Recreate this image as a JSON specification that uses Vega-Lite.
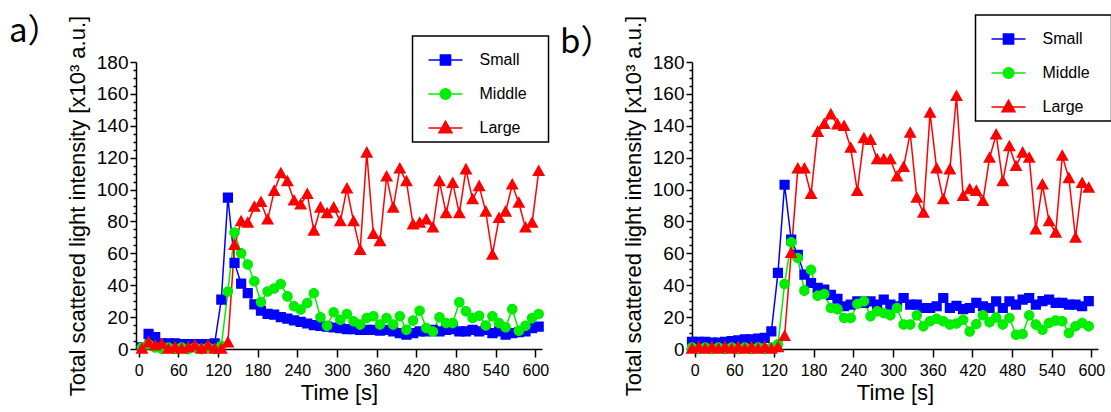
{
  "$schema": "https://vega.github.io/schema/vega-lite/v6.json",
  "padding": {"left": 9, "top": 14, "right": 5, "bottom": 5},
  "bounds": "flush",
  "spacing": 150,
  "config": {
    "view": {"stroke": null},
    "font": "Liberation Sans",
    "axis": {"domainColor": "black", "domainWidth": 1.5, "tickColor": "black", "tickWidth": 1.5, "labelColor": "black", "titleColor": "black", "labelFont": "Liberation Sans", "titleFont": "Liberation Sans", "titleFontWeight": "normal", "grid": false, "labelFlush": false},
    "legend": {"padding": 6, "strokeColor": "black", "strokeWidth": 1.5, "fillColor": "white", "cornerRadius": 0, "symbolSize": 1156, "symbolStrokeWidth": 1.5, "symbolOffset": 9, "labelOffset": 16, "labelFontSize": 16, "labelFont": "Liberation Sans", "labelColor": "black", "rowPadding": 7, "titleOrient": "right", "titleColor": "white", "titleFontSize": 16, "titlePadding": 7, "titleFont": "Liberation Sans"},
    "title": {"font": "Noto Sans CJK JP", "fontSize": 33, "fontWeight": "normal", "color": "black", "anchor": "start", "frame": "group", "offset": 0}
  },
  "resolve": {"scale": {"fill": "independent", "stroke": "independent", "shape": "independent"}, "legend": {"fill": "independent", "stroke": "independent", "shape": "independent"}},
  "datasets": {
    "a": [
      {"t":5,"v":1,"s":"Small"},{"t":15,"v":9.5,"s":"Small"},{"t":25,"v":7.5,"s":"Small"},{"t":35,"v":3.5,"s":"Small"},{"t":45,"v":3.5,"s":"Small"},{"t":55,"v":3.5,"s":"Small"},{"t":65,"v":3,"s":"Small"},{"t":75,"v":3,"s":"Small"},{"t":85,"v":3,"s":"Small"},{"t":95,"v":3,"s":"Small"},{"t":105,"v":3,"s":"Small"},{"t":115,"v":3.5,"s":"Small"},{"t":125,"v":31,"s":"Small"},{"t":135,"v":95,"s":"Small"},{"t":145,"v":54,"s":"Small"},{"t":155,"v":41,"s":"Small"},{"t":165,"v":35,"s":"Small"},{"t":175,"v":28,"s":"Small"},{"t":185,"v":24,"s":"Small"},{"t":195,"v":22,"s":"Small"},{"t":205,"v":21.5,"s":"Small"},{"t":215,"v":20,"s":"Small"},{"t":225,"v":19,"s":"Small"},{"t":235,"v":18,"s":"Small"},{"t":245,"v":17,"s":"Small"},{"t":255,"v":16,"s":"Small"},{"t":265,"v":15,"s":"Small"},{"t":275,"v":14.5,"s":"Small"},{"t":285,"v":14,"s":"Small"},{"t":295,"v":13.5,"s":"Small"},{"t":305,"v":13,"s":"Small"},{"t":315,"v":12.5,"s":"Small"},{"t":325,"v":12.5,"s":"Small"},{"t":335,"v":12,"s":"Small"},{"t":345,"v":12,"s":"Small"},{"t":355,"v":12,"s":"Small"},{"t":365,"v":11.5,"s":"Small"},{"t":375,"v":12,"s":"Small"},{"t":385,"v":11,"s":"Small"},{"t":395,"v":10,"s":"Small"},{"t":405,"v":9,"s":"Small"},{"t":415,"v":10,"s":"Small"},{"t":425,"v":11,"s":"Small"},{"t":435,"v":11,"s":"Small"},{"t":445,"v":12,"s":"Small"},{"t":455,"v":11,"s":"Small"},{"t":465,"v":12,"s":"Small"},{"t":475,"v":12.5,"s":"Small"},{"t":485,"v":11,"s":"Small"},{"t":495,"v":11,"s":"Small"},{"t":505,"v":12,"s":"Small"},{"t":515,"v":11,"s":"Small"},{"t":525,"v":12,"s":"Small"},{"t":535,"v":10,"s":"Small"},{"t":545,"v":11,"s":"Small"},{"t":555,"v":9,"s":"Small"},{"t":565,"v":10,"s":"Small"},{"t":575,"v":10.5,"s":"Small"},{"t":585,"v":11,"s":"Small"},{"t":595,"v":13,"s":"Small"},{"t":605,"v":14,"s":"Small"},
      {"t":5,"v":1,"s":"Middle"},{"t":15,"v":3,"s":"Middle"},{"t":25,"v":1,"s":"Middle"},{"t":35,"v":0,"s":"Middle"},{"t":45,"v":1,"s":"Middle"},{"t":55,"v":0,"s":"Middle"},{"t":65,"v":1,"s":"Middle"},{"t":75,"v":0,"s":"Middle"},{"t":85,"v":1,"s":"Middle"},{"t":95,"v":0,"s":"Middle"},{"t":105,"v":1,"s":"Middle"},{"t":115,"v":0,"s":"Middle"},{"t":125,"v":2,"s":"Middle"},{"t":135,"v":36,"s":"Middle"},{"t":145,"v":73,"s":"Middle"},{"t":155,"v":60,"s":"Middle"},{"t":165,"v":53,"s":"Middle"},{"t":175,"v":42.5,"s":"Middle"},{"t":185,"v":29.5,"s":"Middle"},{"t":195,"v":36,"s":"Middle"},{"t":205,"v":38,"s":"Middle"},{"t":215,"v":40.8,"s":"Middle"},{"t":225,"v":33,"s":"Middle"},{"t":235,"v":26.8,"s":"Middle"},{"t":245,"v":24.7,"s":"Middle"},{"t":255,"v":28.9,"s":"Middle"},{"t":265,"v":35,"s":"Middle"},{"t":275,"v":19.9,"s":"Middle"},{"t":285,"v":14.6,"s":"Middle"},{"t":295,"v":23,"s":"Middle"},{"t":305,"v":18.4,"s":"Middle"},{"t":315,"v":22,"s":"Middle"},{"t":325,"v":17.4,"s":"Middle"},{"t":335,"v":15.3,"s":"Middle"},{"t":345,"v":19.4,"s":"Middle"},{"t":355,"v":20.5,"s":"Middle"},{"t":365,"v":15.3,"s":"Middle"},{"t":375,"v":19.4,"s":"Middle"},{"t":385,"v":15.3,"s":"Middle"},{"t":395,"v":20.5,"s":"Middle"},{"t":405,"v":12.1,"s":"Middle"},{"t":415,"v":17.8,"s":"Middle"},{"t":425,"v":24,"s":"Middle"},{"t":435,"v":13.2,"s":"Middle"},{"t":445,"v":11,"s":"Middle"},{"t":455,"v":19.9,"s":"Middle"},{"t":465,"v":16.3,"s":"Middle"},{"t":475,"v":16.3,"s":"Middle"},{"t":485,"v":29.3,"s":"Middle"},{"t":495,"v":23.6,"s":"Middle"},{"t":505,"v":19.4,"s":"Middle"},{"t":515,"v":20.9,"s":"Middle"},{"t":525,"v":14.8,"s":"Middle"},{"t":535,"v":20.5,"s":"Middle"},{"t":545,"v":16.3,"s":"Middle"},{"t":555,"v":13.6,"s":"Middle"},{"t":565,"v":25,"s":"Middle"},{"t":575,"v":11.5,"s":"Middle"},{"t":585,"v":14.6,"s":"Middle"},{"t":595,"v":19.4,"s":"Middle"},{"t":605,"v":22,"s":"Middle"},
      {"t":5,"v":0,"s":"Large"},{"t":15,"v":4,"s":"Large"},{"t":25,"v":2,"s":"Large"},{"t":35,"v":3,"s":"Large"},{"t":45,"v":0,"s":"Large"},{"t":55,"v":1,"s":"Large"},{"t":65,"v":0,"s":"Large"},{"t":75,"v":1,"s":"Large"},{"t":85,"v":2,"s":"Large"},{"t":95,"v":0,"s":"Large"},{"t":105,"v":2,"s":"Large"},{"t":115,"v":0,"s":"Large"},{"t":125,"v":0,"s":"Large"},{"t":135,"v":4,"s":"Large"},{"t":145,"v":65,"s":"Large"},{"t":155,"v":80,"s":"Large"},{"t":165,"v":79,"s":"Large"},{"t":175,"v":89,"s":"Large"},{"t":185,"v":92,"s":"Large"},{"t":195,"v":81,"s":"Large"},{"t":205,"v":99,"s":"Large"},{"t":215,"v":110,"s":"Large"},{"t":225,"v":105,"s":"Large"},{"t":235,"v":93,"s":"Large"},{"t":245,"v":90.5,"s":"Large"},{"t":255,"v":97,"s":"Large"},{"t":265,"v":74,"s":"Large"},{"t":275,"v":88.5,"s":"Large"},{"t":285,"v":85,"s":"Large"},{"t":295,"v":88.5,"s":"Large"},{"t":305,"v":80,"s":"Large"},{"t":315,"v":100.5,"s":"Large"},{"t":325,"v":80,"s":"Large"},{"t":335,"v":62,"s":"Large"},{"t":345,"v":123,"s":"Large"},{"t":355,"v":72,"s":"Large"},{"t":365,"v":67.5,"s":"Large"},{"t":375,"v":108,"s":"Large"},{"t":385,"v":88.5,"s":"Large"},{"t":395,"v":113,"s":"Large"},{"t":405,"v":105,"s":"Large"},{"t":415,"v":78,"s":"Large"},{"t":425,"v":79,"s":"Large"},{"t":435,"v":81,"s":"Large"},{"t":445,"v":76,"s":"Large"},{"t":455,"v":105,"s":"Large"},{"t":465,"v":85,"s":"Large"},{"t":475,"v":104,"s":"Large"},{"t":485,"v":85,"s":"Large"},{"t":495,"v":112.5,"s":"Large"},{"t":505,"v":93.7,"s":"Large"},{"t":515,"v":102,"s":"Large"},{"t":525,"v":86,"s":"Large"},{"t":535,"v":59,"s":"Large"},{"t":545,"v":82,"s":"Large"},{"t":555,"v":86,"s":"Large"},{"t":565,"v":103,"s":"Large"},{"t":575,"v":91.6,"s":"Large"},{"t":585,"v":76,"s":"Large"},{"t":595,"v":79,"s":"Large"},{"t":605,"v":111.5,"s":"Large"}
    ],
    "b": [
      {"t":-4,"v":4.5,"s":"Small"},{"t":6,"v":4.5,"s":"Small"},{"t":16,"v":4.5,"s":"Small"},{"t":26,"v":4,"s":"Small"},{"t":36,"v":4,"s":"Small"},{"t":46,"v":4.5,"s":"Small"},{"t":56,"v":5,"s":"Small"},{"t":66,"v":5.5,"s":"Small"},{"t":76,"v":6,"s":"Small"},{"t":86,"v":6,"s":"Small"},{"t":96,"v":6.5,"s":"Small"},{"t":106,"v":7,"s":"Small"},{"t":116,"v":11,"s":"Small"},{"t":126,"v":47.7,"s":"Small"},{"t":136,"v":103,"s":"Small"},{"t":146,"v":68.6,"s":"Small"},{"t":156,"v":59,"s":"Small"},{"t":166,"v":46.6,"s":"Small"},{"t":176,"v":41.4,"s":"Small"},{"t":186,"v":38.3,"s":"Small"},{"t":196,"v":37.2,"s":"Small"},{"t":206,"v":34,"s":"Small"},{"t":216,"v":31.5,"s":"Small"},{"t":226,"v":26.8,"s":"Small"},{"t":236,"v":27.8,"s":"Small"},{"t":246,"v":29.9,"s":"Small"},{"t":256,"v":28.9,"s":"Small"},{"t":266,"v":29.9,"s":"Small"},{"t":276,"v":27.8,"s":"Small"},{"t":286,"v":31,"s":"Small"},{"t":296,"v":27.8,"s":"Small"},{"t":306,"v":26.8,"s":"Small"},{"t":316,"v":32,"s":"Small"},{"t":326,"v":27.8,"s":"Small"},{"t":336,"v":27.8,"s":"Small"},{"t":346,"v":25.7,"s":"Small"},{"t":356,"v":25.7,"s":"Small"},{"t":366,"v":26.8,"s":"Small"},{"t":376,"v":32,"s":"Small"},{"t":386,"v":25.7,"s":"Small"},{"t":396,"v":27,"s":"Small"},{"t":406,"v":25,"s":"Small"},{"t":416,"v":25.7,"s":"Small"},{"t":426,"v":28.9,"s":"Small"},{"t":436,"v":26.8,"s":"Small"},{"t":446,"v":25.7,"s":"Small"},{"t":456,"v":29.9,"s":"Small"},{"t":466,"v":25.7,"s":"Small"},{"t":476,"v":29.9,"s":"Small"},{"t":486,"v":27.8,"s":"Small"},{"t":496,"v":31,"s":"Small"},{"t":506,"v":32,"s":"Small"},{"t":516,"v":27.8,"s":"Small"},{"t":526,"v":30,"s":"Small"},{"t":536,"v":31,"s":"Small"},{"t":546,"v":28.9,"s":"Small"},{"t":556,"v":28.9,"s":"Small"},{"t":566,"v":27.8,"s":"Small"},{"t":576,"v":27.8,"s":"Small"},{"t":586,"v":26.8,"s":"Small"},{"t":596,"v":30,"s":"Small"},
      {"t":-4,"v":1,"s":"Middle"},{"t":6,"v":0,"s":"Middle"},{"t":16,"v":1,"s":"Middle"},{"t":26,"v":0,"s":"Middle"},{"t":36,"v":1,"s":"Middle"},{"t":46,"v":0,"s":"Middle"},{"t":56,"v":1,"s":"Middle"},{"t":66,"v":0,"s":"Middle"},{"t":76,"v":1,"s":"Middle"},{"t":86,"v":0,"s":"Middle"},{"t":96,"v":1,"s":"Middle"},{"t":106,"v":0,"s":"Middle"},{"t":116,"v":1,"s":"Middle"},{"t":126,"v":3,"s":"Middle"},{"t":136,"v":40.8,"s":"Middle"},{"t":146,"v":67,"s":"Middle"},{"t":156,"v":57,"s":"Middle"},{"t":166,"v":36.6,"s":"Middle"},{"t":176,"v":49.7,"s":"Middle"},{"t":186,"v":33.4,"s":"Middle"},{"t":196,"v":34.5,"s":"Middle"},{"t":206,"v":25.7,"s":"Middle"},{"t":216,"v":25,"s":"Middle"},{"t":226,"v":19.4,"s":"Middle"},{"t":236,"v":19.4,"s":"Middle"},{"t":246,"v":28.2,"s":"Middle"},{"t":256,"v":30,"s":"Middle"},{"t":266,"v":20.5,"s":"Middle"},{"t":276,"v":23.6,"s":"Middle"},{"t":286,"v":22.6,"s":"Middle"},{"t":296,"v":21.2,"s":"Middle"},{"t":306,"v":25.7,"s":"Middle"},{"t":316,"v":15.3,"s":"Middle"},{"t":326,"v":15.3,"s":"Middle"},{"t":336,"v":21.2,"s":"Middle"},{"t":346,"v":14.2,"s":"Middle"},{"t":356,"v":17.4,"s":"Middle"},{"t":366,"v":19,"s":"Middle"},{"t":376,"v":17.4,"s":"Middle"},{"t":386,"v":15.3,"s":"Middle"},{"t":396,"v":16,"s":"Middle"},{"t":406,"v":18.4,"s":"Middle"},{"t":416,"v":11,"s":"Middle"},{"t":426,"v":15.7,"s":"Middle"},{"t":436,"v":21.2,"s":"Middle"},{"t":446,"v":16.8,"s":"Middle"},{"t":456,"v":19.7,"s":"Middle"},{"t":466,"v":15.3,"s":"Middle"},{"t":476,"v":19.4,"s":"Middle"},{"t":486,"v":9,"s":"Middle"},{"t":496,"v":9.4,"s":"Middle"},{"t":506,"v":21.2,"s":"Middle"},{"t":516,"v":15.3,"s":"Middle"},{"t":526,"v":12.1,"s":"Middle"},{"t":536,"v":16.3,"s":"Middle"},{"t":546,"v":17.8,"s":"Middle"},{"t":556,"v":17.4,"s":"Middle"},{"t":566,"v":10,"s":"Middle"},{"t":576,"v":14.2,"s":"Middle"},{"t":586,"v":16.3,"s":"Middle"},{"t":596,"v":14.2,"s":"Middle"},
      {"t":-4,"v":0,"s":"Large"},{"t":6,"v":1,"s":"Large"},{"t":16,"v":0,"s":"Large"},{"t":26,"v":1,"s":"Large"},{"t":36,"v":0,"s":"Large"},{"t":46,"v":1,"s":"Large"},{"t":56,"v":0,"s":"Large"},{"t":66,"v":1,"s":"Large"},{"t":76,"v":0,"s":"Large"},{"t":86,"v":1,"s":"Large"},{"t":96,"v":0,"s":"Large"},{"t":106,"v":1,"s":"Large"},{"t":116,"v":0,"s":"Large"},{"t":126,"v":1,"s":"Large"},{"t":136,"v":8,"s":"Large"},{"t":146,"v":60,"s":"Large"},{"t":156,"v":113,"s":"Large"},{"t":166,"v":113,"s":"Large"},{"t":176,"v":97,"s":"Large"},{"t":186,"v":136,"s":"Large"},{"t":196,"v":141,"s":"Large"},{"t":206,"v":147,"s":"Large"},{"t":216,"v":140.7,"s":"Large"},{"t":226,"v":139.7,"s":"Large"},{"t":236,"v":126,"s":"Large"},{"t":246,"v":99,"s":"Large"},{"t":256,"v":132,"s":"Large"},{"t":266,"v":131,"s":"Large"},{"t":276,"v":118.8,"s":"Large"},{"t":286,"v":118.8,"s":"Large"},{"t":296,"v":118.8,"s":"Large"},{"t":306,"v":108,"s":"Large"},{"t":316,"v":114,"s":"Large"},{"t":326,"v":135.5,"s":"Large"},{"t":336,"v":94.7,"s":"Large"},{"t":346,"v":85.3,"s":"Large"},{"t":356,"v":148,"s":"Large"},{"t":366,"v":113,"s":"Large"},{"t":376,"v":93.7,"s":"Large"},{"t":386,"v":112.5,"s":"Large"},{"t":396,"v":158.5,"s":"Large"},{"t":406,"v":95.8,"s":"Large"},{"t":416,"v":100,"s":"Large"},{"t":426,"v":99,"s":"Large"},{"t":436,"v":92.7,"s":"Large"},{"t":446,"v":119.8,"s":"Large"},{"t":456,"v":134.4,"s":"Large"},{"t":466,"v":105,"s":"Large"},{"t":476,"v":127,"s":"Large"},{"t":486,"v":114.6,"s":"Large"},{"t":496,"v":123,"s":"Large"},{"t":506,"v":119.8,"s":"Large"},{"t":516,"v":74.8,"s":"Large"},{"t":526,"v":103,"s":"Large"},{"t":536,"v":80,"s":"Large"},{"t":546,"v":72.8,"s":"Large"},{"t":556,"v":121,"s":"Large"},{"t":566,"v":107,"s":"Large"},{"t":576,"v":69.6,"s":"Large"},{"t":586,"v":104,"s":"Large"},{"t":596,"v":101,"s":"Large"}
    ]
  },
  "hconcat": [
    {
      "data": {"name": "a"},
      "width": 406,
      "height": 287,
      "title": {"text": "a）", "dx": -127, "dy": 38},
      "resolve": {"axis": {"y": "independent"}},
      "layer": [
        {
          "mark": {"type": "line", "strokeWidth": 1.5},
          "encoding": {
            "x": {"field": "t", "type": "quantitative", "scale": {"domain": [-4, 610], "nice": false, "zero": false}, "axis": {"values": [0,60,120,180,240,300,360,420,480,540,600], "tickSize": 8, "labelFontSize": 16, "labelPadding": 5, "title": "Time [s]", "titleFontSize": 22, "titlePadding": 4}},
            "y": {"field": "v", "type": "quantitative", "scale": {"domain": [0, 180], "nice": false}, "axis": {"orient": "left", "values": [0,20,40,60,80,100,120,140,160,180], "tickSize": 6, "labelFontSize": 19, "labelPadding": 2, "title": "Total scattered light intensity [x10³ a.u.]", "titleFontSize": 22, "titlePadding": 7}},
            "stroke": {"field": "s", "type": "nominal", "scale": {"domain": ["Small", "Middle", "Large"], "range": ["#0000ff", "#00ee00", "#ff0000"]}, "legend": {"title": "x", "orient": "none", "legendX": 276.5, "legendY": -26}}
          }
        },
        {
          "mark": {"type": "point", "filled": true, "opacity": 1, "size": 1156},
          "encoding": {
            "x": {"field": "t", "type": "quantitative", "scale": {"domain": [-4, 610], "nice": false, "zero": false}, "axis": {"values": [0,60,120,180,240,300,360,420,480,540,600], "tickSize": 8, "labelFontSize": 16, "labelPadding": 5, "title": "Time [s]", "titleFontSize": 22, "titlePadding": 4}},
            "y": {"field": "v", "type": "quantitative", "scale": {"domain": [0, 180], "nice": false}, "axis": null},
            "fill": {"field": "s", "type": "nominal", "scale": {"domain": ["Small", "Middle", "Large"], "range": ["#0000ff", "#00ee00", "#ff0000"]}, "legend": {"title": "x", "orient": "none", "legendX": 276.5, "legendY": -26}},
            "shape": {"field": "s", "type": "nominal", "scale": {"domain": ["Small", "Middle", "Large"], "range": ["M-1,0H1M-0.3,-0.3H0.3V0.3H-0.3Z", "M-1,0H1M-0.31,0A0.31,0.31,0,1,1,0.31,0A0.31,0.31,0,1,1,-0.31,0Z", "M-1,0H1M0,-0.4L0.38,0.28H-0.38Z"]}, "legend": {"title": "x", "orient": "none", "legendX": 276.5, "legendY": -26}}
          }
        },
        {
          "mark": {"type": "line", "strokeOpacity": 0},
          "encoding": {
            "x": {"field": "t", "type": "quantitative", "scale": {"domain": [-4, 610], "nice": false, "zero": false}, "axis": {"values": [0,60,120,180,240,300,360,420,480,540,600], "tickSize": 8, "labelFontSize": 16, "labelPadding": 5, "title": "Time [s]", "titleFontSize": 22, "titlePadding": 4}},
            "y": {"field": "v", "type": "quantitative", "scale": {"domain": [0, 180], "nice": false}, "axis": {"orient": "left", "values": [5,10,15,25,30,35,45,50,55,65,70,75,85,90,95,105,110,115,125,130,135,145,150,155,165,170,175], "tickSize": 3, "labels": false, "domain": false, "title": null}},
            "detail": {"field": "s"}
          }
        }
      ]
    },
    {
      "data": {"name": "b"},
      "width": 406,
      "height": 287,
      "title": {"text": "b）", "dx": -132, "dy": 50},
      "resolve": {"axis": {"y": "independent"}},
      "layer": [
        {
          "mark": {"type": "line", "strokeWidth": 1.5},
          "encoding": {
            "x": {"field": "t", "type": "quantitative", "scale": {"domain": [-4, 610], "nice": false, "zero": false}, "axis": {"values": [0,60,120,180,240,300,360,420,480,540,600], "tickSize": 8, "labelFontSize": 16, "labelPadding": 5, "title": "Time [s]", "titleFontSize": 22, "titlePadding": 4}},
            "y": {"field": "v", "type": "quantitative", "scale": {"domain": [0, 180], "nice": false}, "axis": {"orient": "left", "values": [0,20,40,60,80,100,120,140,160,180], "tickSize": 6, "labelFontSize": 19, "labelPadding": 2, "title": "Total scattered light intensity [x10³ a.u.]", "titleFontSize": 22, "titlePadding": 7}},
            "stroke": {"field": "s", "type": "nominal", "scale": {"domain": ["Small", "Middle", "Large"], "range": ["#0000ff", "#00ee00", "#ff0000"]}, "legend": {"title": "x", "orient": "none", "legendX": 283.5, "legendY": -47}}
          }
        },
        {
          "mark": {"type": "point", "filled": true, "opacity": 1, "size": 1156},
          "encoding": {
            "x": {"field": "t", "type": "quantitative", "scale": {"domain": [-4, 610], "nice": false, "zero": false}, "axis": {"values": [0,60,120,180,240,300,360,420,480,540,600], "tickSize": 8, "labelFontSize": 16, "labelPadding": 5, "title": "Time [s]", "titleFontSize": 22, "titlePadding": 4}},
            "y": {"field": "v", "type": "quantitative", "scale": {"domain": [0, 180], "nice": false}, "axis": null},
            "fill": {"field": "s", "type": "nominal", "scale": {"domain": ["Small", "Middle", "Large"], "range": ["#0000ff", "#00ee00", "#ff0000"]}, "legend": {"title": "x", "orient": "none", "legendX": 283.5, "legendY": -47}},
            "shape": {"field": "s", "type": "nominal", "scale": {"domain": ["Small", "Middle", "Large"], "range": ["M-1,0H1M-0.3,-0.3H0.3V0.3H-0.3Z", "M-1,0H1M-0.31,0A0.31,0.31,0,1,1,0.31,0A0.31,0.31,0,1,1,-0.31,0Z", "M-1,0H1M0,-0.4L0.38,0.28H-0.38Z"]}, "legend": {"title": "x", "orient": "none", "legendX": 283.5, "legendY": -47}}
          }
        },
        {
          "mark": {"type": "line", "strokeOpacity": 0},
          "encoding": {
            "x": {"field": "t", "type": "quantitative", "scale": {"domain": [-4, 610], "nice": false, "zero": false}, "axis": {"values": [0,60,120,180,240,300,360,420,480,540,600], "tickSize": 8, "labelFontSize": 16, "labelPadding": 5, "title": "Time [s]", "titleFontSize": 22, "titlePadding": 4}},
            "y": {"field": "v", "type": "quantitative", "scale": {"domain": [0, 180], "nice": false}, "axis": {"orient": "left", "values": [5,10,15,25,30,35,45,50,55,65,70,75,85,90,95,105,110,115,125,130,135,145,150,155,165,170,175], "tickSize": 3, "labels": false, "domain": false, "title": null}},
            "detail": {"field": "s"}
          }
        }
      ]
    }
  ]
}
